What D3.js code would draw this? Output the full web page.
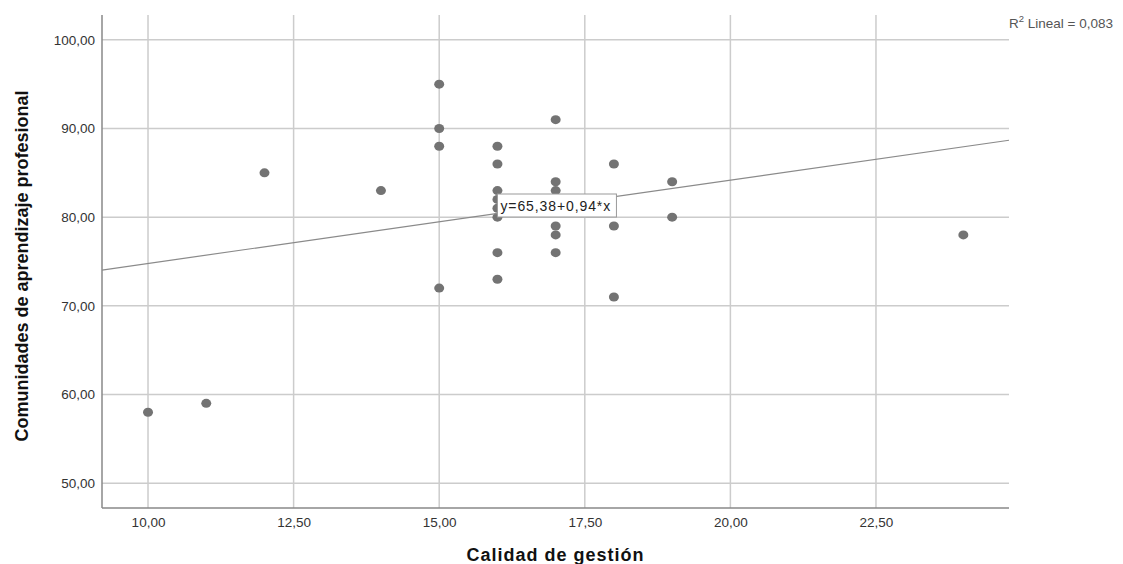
<!DOCTYPE html>
<html>
<head>
<meta charset="utf-8">
<script src="https://cdn.jsdelivr.net/npm/d3@7"></script>
<style>
  body { margin: 0; background: #fff; }
  svg { font-family: "Liberation Sans", Arial, sans-serif; }
</style>
</head>
<body>
<svg></svg>
<script>
// data
const calidad = [10, 11, 12, 14, 15, 15, 15, 15,
  16, 16, 16, 16, 16, 16, 16, 16,
  17, 17, 17, 17, 17, 17,
  18, 18, 18, 19, 19, 24];
const comunidades = [58, 59, 85, 83, 95, 90, 88, 72,
  88, 86, 83, 82, 81, 80, 76, 73,
  91, 84, 83, 79, 78, 76,
  86, 79, 71, 84, 80, 78];
const xTicks = [10, 12.5, 15, 17.5, 20, 22.5];
const yTicks = [50, 60, 70, 80, 90, 100];
const intercept = 65.38, slope = 0.94;
const r2Text = "0,083";

const width = 1123, height = 564;
const plot = { left: 102, right: 1009, top: 15, bottom: 508 };

const svg = d3.select("svg")
  .attr("width", width)
  .attr("height", height);

const x = d3.scaleLinear().domain([9.21, 24.784]).range([plot.left, plot.right]);
const y = d3.scaleLinear().domain([47.2, 102.8]).range([plot.bottom, plot.top]);

const fmt = d => d.toFixed(2).replace(".", ",");

// grid lines
svg.append("g")
  .selectAll("line")
  .data(xTicks)
  .join("line")
  .attr("x1", d => x(d)).attr("x2", d => x(d))
  .attr("y1", plot.top).attr("y2", plot.bottom)
  .attr("stroke", "#cccccc")
  .attr("stroke-width", 1.5);

svg.append("g")
  .selectAll("line")
  .data(yTicks)
  .join("line")
  .attr("x1", plot.left).attr("x2", plot.right)
  .attr("y1", d => y(d)).attr("y2", d => y(d))
  .attr("stroke", "#cccccc")
  .attr("stroke-width", 1.5);

// axes
const xAxis = svg.append("g")
  .attr("transform", `translate(0,${plot.bottom})`)
  .call(d3.axisBottom(x).tickValues(xTicks).tickFormat(fmt).tickSize(0).tickPadding(9));
xAxis.select(".domain").attr("stroke", "#888").attr("stroke-width", 1.5)
  .attr("d", `M${plot.left},0H${plot.right}`);
xAxis.selectAll("text").attr("font-size", 13.5).attr("fill", "#333")
  .attr("font-family", "Liberation Sans, Arial, sans-serif");

const yAxis = svg.append("g")
  .attr("transform", `translate(${plot.left},0)`)
  .call(d3.axisLeft(y).tickValues(yTicks).tickFormat(fmt).tickSize(0).tickPadding(7));
yAxis.select(".domain").attr("stroke", "#888").attr("stroke-width", 1.5)
  .attr("d", `M0,${plot.top}V${plot.bottom}`);
yAxis.selectAll("text").attr("font-size", 13.5).attr("fill", "#333")
  .attr("font-family", "Liberation Sans, Arial, sans-serif");

// axis titles
svg.append("text")
  .attr("x", (plot.left + plot.right) / 2)
  .attr("y", 561)
  .attr("text-anchor", "middle")
  .attr("font-size", 18)
  .attr("font-weight", "bold")
  .attr("letter-spacing", 1)
  .attr("fill", "#111")
  .text("Calidad de gestión");

svg.append("text")
  .attr("transform", "translate(28,266) rotate(-90)")
  .attr("text-anchor", "middle")
  .attr("font-size", 18)
  .attr("font-weight", "bold")
  .attr("fill", "#111")
  .text("Comunidades de aprendizaje profesional");

// points
svg.append("g")
  .selectAll("ellipse")
  .data(calidad.map((c, i) => [c, comunidades[i]]))
  .join("ellipse")
  .attr("cx", d => x(d[0]))
  .attr("cy", d => y(d[1]))
  .attr("rx", 5)
  .attr("ry", 4.5)
  .attr("fill", "#737373");

// fit line
const xd = x.domain();
svg.append("line")
  .attr("x1", x(xd[0])).attr("y1", y(intercept + slope * xd[0]))
  .attr("x2", x(xd[1])).attr("y2", y(intercept + slope * xd[1]))
  .attr("stroke", "#8a8a8a")
  .attr("stroke-width", 1.2);

// equation label
const lab = svg.append("g").attr("transform", `translate(${x(16)},194)`);
lab.append("rect")
  .attr("width", 119).attr("height", 23)
  .attr("fill", "#fff")
  .attr("stroke", "#999")
  .attr("stroke-width", 1);
lab.append("text")
  .attr("x", 3).attr("y", 16.5)
  .attr("font-size", 14)
  .attr("letter-spacing", 0.9)
  .attr("fill", "#222")
  .text(`y=${fmt(intercept)}+${fmt(slope)}*x`);

// R2 label
const r2 = svg.append("text")
  .attr("x", 1009).attr("y", 28)
  .attr("font-size", 13.5)
  .attr("fill", "#555");
r2.append("tspan").text("R");
r2.append("tspan").attr("dy", -6).attr("font-size", 9.5).text("2");
r2.append("tspan").attr("dy", 6).text(" Lineal = " + r2Text);
</script>
</body>
</html>
